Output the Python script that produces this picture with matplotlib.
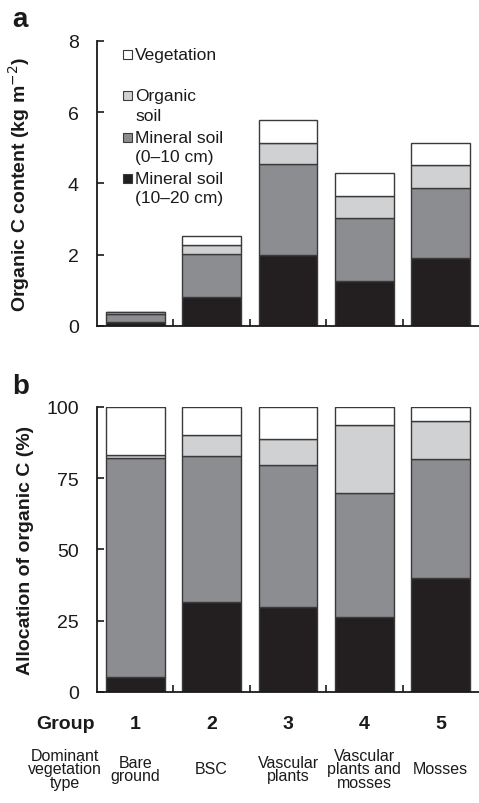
import matplotlib
matplotlib.use('Agg')
import matplotlib.pyplot as plt
from matplotlib.patches import Rectangle
import matplotlib.transforms as mtransforms

plt.rcParams['font.family'] = ['Liberation Sans', 'DejaVu Sans']

###########                 Data                 ###########
#----------------------------------------------------------#
groups = ['1', '2', '3', '4', '5']
veg_types = ['Bare\nground', 'BSC', 'Vascular\nplants', 'Vascular\nplants and\nmosses', 'Mosses']

# panel a, kg m-2 (stack components)
min_10_20 = [0.11, 0.82, 1.99, 1.25, 1.92]
min_0_10 = [0.22, 1.20, 2.57, 1.79, 1.95]
org_soil = [0.05, 0.25, 0.59, 0.60, 0.64]
vegetation = [0.02, 0.25, 0.62, 0.65, 0.63]

# panel b, % (stack components)
pct_10_20 = [5.3, 31.6, 29.7, 26.4, 40.1]
pct_0_10 = [76.8, 51.2, 49.8, 43.5, 41.5]
pct_org = [0.9, 7.5, 9.4, 23.9, 13.4]
pct_veg = [17.0, 9.7, 11.1, 6.2, 5.0]

colors = ['#231f20', '#8c8d90', '#d0d1d3', '#ffffff']
edge = '#3a3a3a'
ink = '#1a1a1a'

x = list(range(1, 6))
width = 0.77

fig = plt.figure(figsize=(4.79, 8.04), dpi=100)
ax_a = fig.add_axes([0.2025, 0.5933, 0.7975, 0.3545])
ax_b = fig.add_axes([0.2025, 0.1381, 0.7975, 0.3545])


def stack(ax, series):
    bottom = [0] * 5
    for vals, c in zip(series, colors):
        ax.bar(x, vals, width, bottom=bottom, color=c, edgecolor=edge, linewidth=1.0, zorder=2)
        bottom = [b + v for b, v in zip(bottom, vals)]


def style(ax):
    ax.set_xlim(0.5, 5.5)
    for s in ['top', 'right']:
        ax.spines[s].set_visible(False)
    for s in ['left', 'bottom']:
        ax.spines[s].set_linewidth(1.3)
        ax.spines[s].set_color(ink)
    ax.set_xticks([1.5, 2.5, 3.5, 4.5])
    ax.set_xticklabels([])
    ax.tick_params(axis='both', direction='in', length=5, width=1.2, color=ink)
    ax.tick_params(axis='y', labelsize=14, pad=13, labelcolor=ink)


stack(ax_a, [min_10_20, min_0_10, org_soil, vegetation])
style(ax_a)
ax_a.set_ylim(0, 8)
ax_a.set_yticks([0, 2, 4, 6, 8])
ax_a.set_ylabel('Organic C content (kg m$^{-2}$)', fontsize=14, fontweight='bold', color=ink)
ax_a.yaxis.set_label_coords(-0.17, 0.5)

stack(ax_b, [pct_10_20, pct_0_10, pct_org, pct_veg])
style(ax_b)
ax_b.set_ylim(0, 100)
ax_b.set_yticks([0, 25, 50, 75, 100])
ax_b.set_ylabel('Allocation of organic C (%)', fontsize=14, fontweight='bold', color=ink)
ax_b.yaxis.set_label_coords(-0.165, 0.5)

# legend (manual, squares aligned with first line)
leg_rows = [(0.954, ['Vegetation'], colors[3]),
            (0.807, ['Organic', 'soil'], colors[2]),
            (0.663, ['Mineral soil', '(0\u201310 cm)'], colors[1]),
            (0.519, ['Mineral soil', '(10\u201320 cm)'], colors[0])]
sq_w, sq_h = 0.0236, 0.0316
for yy, lines, c in leg_rows:
    ax_a.add_patch(Rectangle((0.068, yy - sq_h / 2), sq_w, sq_h, transform=ax_a.transAxes,
                             facecolor=c, edgecolor=edge, linewidth=0.8, clip_on=False))
    for k, line in enumerate(lines):
        ax_a.text(0.1, yy - 0.067 * k, line, transform=ax_a.transAxes, fontsize=12.5,
                  va='center', ha='left', color=ink)

# panel letters
fig.text(0.025, 0.967, 'a', fontsize=20, fontweight='bold', color=ink)
fig.text(0.025, 0.51, 'b', fontsize=20, fontweight='bold', color=ink)

# bottom rows
trans = mtransforms.blended_transform_factory(ax_b.transData, fig.transFigure)
fig.text(0.136, 0.0983, 'Group', fontsize=14, fontweight='bold', ha='center', va='center', color=ink)
fig.text(0.136, 0.0423, 'Dominant\nvegetation\ntype', fontsize=11.5, ha='center', va='center',
         linespacing=0.85, color=ink)
for xi, g, v in zip(x, groups, veg_types):
    ax_b.text(xi, 0.0983, g, transform=trans, fontsize=14, fontweight='bold', ha='center', va='center',
              color=ink)
    ax_b.text(xi, 0.0423, v, transform=trans, fontsize=11.5, ha='center', va='center',
              linespacing=0.85, color=ink)

fig.savefig('out.png', dpi=100)
